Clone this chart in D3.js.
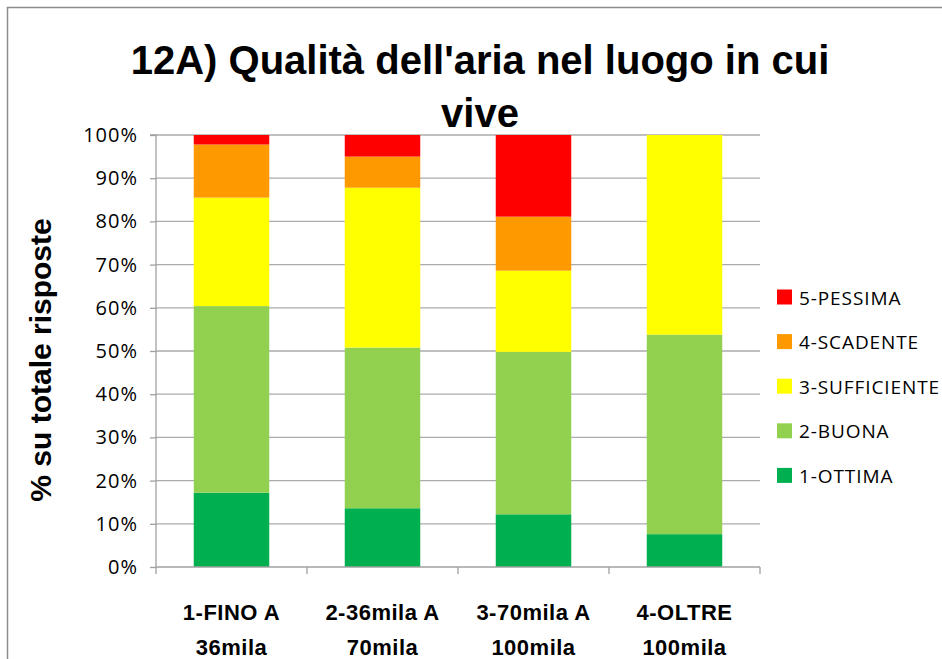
<!DOCTYPE html>
<html>
<head>
<meta charset="utf-8">
<script src="https://cdn.jsdelivr.net/npm/d3@7"></script>
<style>
  html, body { margin: 0; padding: 0; background: #fff; overflow: hidden; }
  svg { display: block; }
</style>
</head>
<body>
<svg id="chart" width="942" height="659"></svg>
<script>
// ---- data ----
const categories = [["1-FINO A", "36mila"], ["2-36mila A", "70mila"], ["3-70mila A", "100mila"], ["4-OLTRE", "100mila"]];
const seriesNames = ["1-OTTIMA", "2-BUONA", "3-SUFFICIENTE", "4-SCADENTE", "5-PESSIMA"];
const ottima       = [17.2, 13.6, 12.2, 7.6];
const buona        = [43.2, 37.2, 37.6, 46.2];
const sufficiente  = [25.1, 37.0, 18.8, 46.2];
const scadente     = [12.3, 7.2, 12.5, 0];
const pessima      = [2.2, 5.0, 18.9, 0];
const seriesColors = ["#00B050", "#92D050", "#FFFF00", "#FF9900", "#FF0000"];
const yTicks = [0, 10, 20, 30, 40, 50, 60, 70, 80, 90, 100];
const titleLines = ["12A) Qualità dell'aria nel luogo in cui", "vive"];
const yTitle = "% su totale risposte";

const seriesValues = [ottima, buona, sufficiente, scadente, pessima];
const rows = categories.map((c, i) => {
  const r = { key: c.join(" ") };
  seriesNames.forEach((s, j) => r[s] = seriesValues[j][i]);
  return r;
});

const svg = d3.select("#chart");
const font = "'Liberation Sans', Arial, sans-serif";
const lightFont = "'Open Sans', sans-serif";

// outer frame
svg.append("rect").attr("x", 7.5).attr("y", 7.5).attr("width", 1000).attr("height", 700)
  .attr("fill", "none").attr("stroke", "#8c8c8c").attr("stroke-width", 1.5);

const plot = { left: 156, right: 760, top: 135, bottom: 567 };

const x = d3.scaleBand().domain(rows.map(r => r.key))
  .range([plot.left, plot.right]).paddingInner(0.5).paddingOuter(0.25);
const y = d3.scaleLinear().domain([0, 100]).range([plot.bottom, plot.top]);

// gridlines
svg.append("g").selectAll("line").data(yTicks.filter(t => t > 0)).join("line")
  .attr("x1", plot.left).attr("x2", plot.right)
  .attr("y1", d => y(d)).attr("y2", d => y(d))
  .attr("stroke", "#ababab").attr("stroke-width", 1.3);

// stacked bars
const stack = d3.stack().keys(seriesNames)(rows);
svg.append("g").selectAll("g").data(stack).join("g")
  .attr("fill", (d, i) => seriesColors[i])
  .selectAll("rect").data(d => d).join("rect")
  .attr("x", d => x(d.data.key))
  .attr("width", x.bandwidth())
  .attr("y", d => y(d[1]))
  .attr("height", d => Math.max(0, y(d[0]) - y(d[1])));

// y axis
const yAxis = d3.axisLeft(y).tickValues(yTicks).tickFormat(d => d + "%").tickSize(6).tickPadding(12);
const gy = svg.append("g").attr("transform", `translate(${plot.left},0)`).call(yAxis);
gy.select(".domain").attr("stroke", "#a0a0a0").attr("stroke-width", 1.3).attr("d", `M-6,${plot.top}H0V${plot.bottom}`);
gy.selectAll(".tick line").attr("stroke", "#a0a0a0").attr("stroke-width", 1.3);
gy.selectAll(".tick text").attr("font-family", lightFont).attr("font-size", 20)
  .attr("letter-spacing", 1).attr("fill", "#000");

// x axis
const boundaries = d3.range(categories.length + 1).map(i => plot.left + i * (plot.right - plot.left) / categories.length);
const gx = svg.append("g");
gx.append("line").attr("x1", plot.left).attr("x2", plot.right).attr("y1", plot.bottom).attr("y2", plot.bottom)
  .attr("stroke", "#a0a0a0").attr("stroke-width", 1.3);
gx.selectAll("line.tk").data(boundaries).join("line").attr("class", "tk")
  .attr("x1", d => d).attr("x2", d => d).attr("y1", plot.bottom).attr("y2", plot.bottom + 7)
  .attr("stroke", "#a0a0a0").attr("stroke-width", 1.3);
const xl = gx.selectAll("text.xl").data(categories).join("text").attr("class", "xl")
  .attr("x", (d, i) => x(rows[i].key) + x.bandwidth() / 2)
  .attr("text-anchor", "middle")
  .attr("font-family", font).attr("font-weight", "bold").attr("font-size", 22)
  .attr("letter-spacing", 0.5).attr("fill", "#000");
xl.append("tspan").attr("x", (d, i) => x(rows[i].key) + x.bandwidth() / 2).attr("y", 620).text(d => d[0]);
xl.append("tspan").attr("x", (d, i) => x(rows[i].key) + x.bandwidth() / 2).attr("y", 655).text(d => d[1]);

// y title
svg.append("text").attr("transform", "translate(51,360) rotate(-90)")
  .attr("text-anchor", "middle").attr("font-family", font).attr("font-weight", "bold")
  .attr("font-size", 30).attr("fill", "#000").text(yTitle);

// title
svg.append("g").selectAll("text").data(titleLines).join("text")
  .attr("x", 480).attr("y", (d, i) => 74 + i * 53)
  .attr("text-anchor", "middle").attr("font-family", font).attr("font-weight", "bold")
  .attr("font-size", 40).attr("fill", "#000").text(d => d);

// legend
const legendOrder = seriesNames.map((s, i) => ({ name: s, color: seriesColors[i] })).reverse();
const lg = svg.append("g").selectAll("g").data(legendOrder).join("g")
  .attr("transform", (d, i) => `translate(777,${297 + i * 44.6})`);
lg.append("rect").attr("x", 0).attr("y", -7.5).attr("width", 15).attr("height", 15).attr("fill", d => d.color);
lg.append("text").attr("x", 22).attr("y", 7.5).attr("font-family", lightFont)
  .attr("font-size", 19).attr("letter-spacing", 0.9).attr("fill", "#000").text(d => d.name);
</script>
</body>
</html>
